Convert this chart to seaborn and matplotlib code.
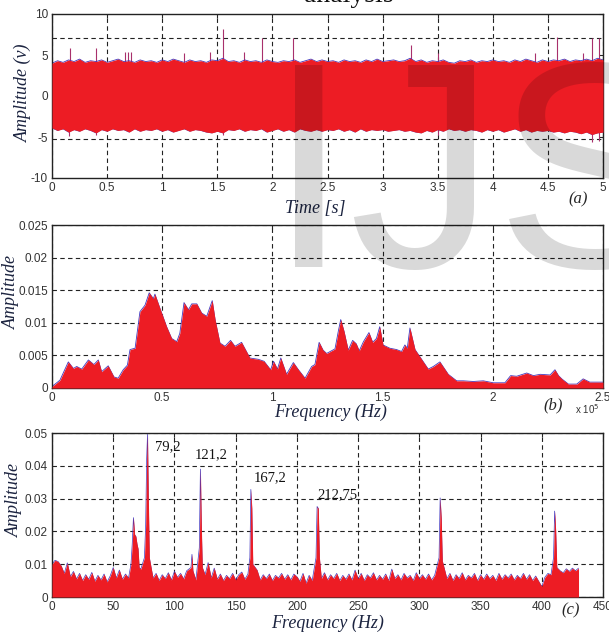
import numpy as np
import matplotlib
matplotlib.use("Agg")
import matplotlib.pyplot as plt
import seaborn as sns
from matplotlib.ticker import FuncFormatter

# -------------------------------
# Data
# -------------------------------
# (a) time signal: envelope sampled every 0.05 s, plus isolated spikes
time_a = np.arange(0, 5.001, 0.05)
upper_a = [4.0, 4.3, 4.1, 4.4, 4.2, 4.5, 4.1, 4.3, 4.2, 4.4,
           4.1, 4.3, 4.5, 4.2, 4.3, 4.1, 4.4, 4.2, 4.3, 4.1,
           4.4, 4.2, 4.5, 4.3, 4.1, 4.4, 4.2, 4.3, 4.1, 4.4,
           4.3, 4.6, 4.2, 4.3, 4.1, 4.4, 4.2, 4.3, 4.1, 4.4,
           4.2, 4.1, 4.3, 4.2, 4.4, 4.1, 4.3, 4.5, 4.2, 4.4,
           4.2, 4.3, 4.1, 4.4, 4.2, 4.3, 4.1, 4.4, 4.2, 4.5,
           4.2, 4.3, 4.4, 4.2, 4.3, 4.6, 4.2, 4.4, 4.1, 4.3,
           4.2, 4.4, 4.1, 4.0, 4.3, 4.2, 4.4, 4.1, 4.3, 4.2,
           4.4, 4.2, 4.3, 4.1, 4.4, 4.2, 4.5, 4.3, 4.1, 4.4,
           4.2, 4.4, 4.3, 4.5, 4.2, 4.4, 4.3, 4.5, 4.3, 4.6, 4.4]
lower_a = [-3.9, -4.2, -4.0, -4.4, -4.1, -4.3, -4.0, -4.2, -4.5, -4.1,
           -4.3, -4.0, -4.2, -4.1, -4.4, -4.0, -4.3, -4.1, -4.2, -4.0,
           -4.3, -4.1, -4.4, -4.2, -4.0, -4.3, -4.1, -4.2, -4.4, -4.5,
           -4.3, -4.5, -4.1, -4.2, -4.0, -4.3, -4.1, -4.2, -4.0, -4.4,
           -4.2, -4.0, -4.3, -4.1, -4.4, -4.0, -4.2, -4.3, -4.1, -4.3,
           -4.1, -4.2, -4.0, -4.3, -4.1, -4.4, -4.0, -4.3, -4.1, -4.2,
           -4.1, -4.3, -4.2, -4.1, -4.3, -4.2, -4.4, -4.5, -4.2, -4.4,
           -4.1, -4.3, -4.0, -4.2, -4.1, -4.3, -4.1, -4.2, -4.4, -4.1,
           -4.3, -4.1, -4.4, -4.2, -4.0, -4.3, -4.1, -4.4, -4.2, -4.3,
           -4.2, -4.4, -4.3, -4.5, -4.3, -4.4, -4.6, -4.4, -4.7, -4.5, -4.4]
spike_t = [0.16, 0.40, 0.66, 0.69, 0.72, 1.20, 1.43, 1.55, 1.74, 1.91,
           2.19, 3.26, 3.50, 4.38, 4.58, 4.82, 4.90, 4.96]
spike_v = [5.9, 5.9, 5.4, 5.4, 5.4, 5.2, 5.4, 8.2, 5.4, 7.1,
           7.1, 6.2, 5.2, 5.3, 7.2, 5.2, 7.1, 7.1]
neg_spike_t = [0.15, 0.40, 1.55, 3.50, 4.90, 4.96]
neg_spike_v = [-4.9, -4.8, -4.8, -4.8, -5.6, -5.5]
ref_lines_a = [7.1, -5.25]

# (b) spectrum, frequency in units of 1e5 Hz
freq_b = [0.0, 0.003, 0.036, 0.074, 0.097, 0.112, 0.135, 0.165, 0.19, 0.21,
          0.225, 0.255, 0.281, 0.30, 0.323, 0.342, 0.354, 0.377, 0.399, 0.422,
          0.441, 0.46, 0.467, 0.49, 0.52, 0.543, 0.566, 0.58, 0.599, 0.619,
          0.634, 0.657, 0.679, 0.702, 0.727, 0.74, 0.762, 0.785, 0.81, 0.83,
          0.86, 0.898, 0.936, 0.962, 0.992, 1.005, 1.023, 1.038, 1.064, 1.095,
          1.118, 1.148, 1.178, 1.193, 1.212, 1.230, 1.246, 1.284, 1.299, 1.31,
          1.325, 1.344, 1.364, 1.38, 1.394, 1.413, 1.438, 1.455, 1.472, 1.487,
          1.502, 1.533, 1.563, 1.586, 1.601, 1.612, 1.624, 1.647, 1.677, 1.707,
          1.73, 1.76, 1.798, 1.836, 1.866, 1.911, 1.957, 2.002, 2.055, 2.081,
          2.108, 2.154, 2.184, 2.215, 2.26, 2.282, 2.298, 2.313, 2.343, 2.381,
          2.41, 2.44, 2.486, 2.5]
amp_b = [0.0002, 0.0003, 0.0012, 0.0040, 0.0030, 0.0033, 0.0029, 0.0043, 0.0036, 0.0043,
         0.0025, 0.0034, 0.0017, 0.0015, 0.0028, 0.0035, 0.0059, 0.0061, 0.0117, 0.0127,
         0.0146, 0.0137, 0.0144, 0.0122, 0.0094, 0.0076, 0.0071, 0.0084, 0.0131, 0.0120,
         0.0129, 0.0129, 0.0115, 0.0110, 0.0134, 0.0105, 0.0069, 0.0064, 0.0073, 0.0064,
         0.0070, 0.0046, 0.0044, 0.0041, 0.0028, 0.0041, 0.0029, 0.0046, 0.0021, 0.0039,
         0.0028, 0.0015, 0.0033, 0.0036, 0.0070, 0.0058, 0.0053, 0.0060, 0.0087, 0.0105,
         0.0087, 0.0058, 0.0073, 0.0068, 0.0057, 0.0071, 0.0085, 0.0070, 0.0076, 0.0094,
         0.0066, 0.0061, 0.0059, 0.0056, 0.0066, 0.0061, 0.0092, 0.0059, 0.0044, 0.0029,
         0.0033, 0.0040, 0.0021, 0.0011, 0.0011, 0.0010, 0.0011, 0.0008, 0.0008, 0.0019,
         0.0018, 0.0023, 0.0019, 0.0021, 0.0020, 0.0028, 0.0019, 0.0014, 0.0006, 0.0006,
         0.0014, 0.0009, 0.0009, 0.0009]

# (c) low-frequency spectrum: noise floor every 2.5 Hz plus the peaks
floor_f = np.arange(0, 431, 2.5)
floor_a = [0.0100, 0.0112, 0.0108, 0.0095, 0.0072, 0.0104, 0.0062, 0.0078, 0.0055, 0.0072,
           0.0050, 0.0068, 0.0054, 0.0075, 0.0048, 0.0066, 0.0052, 0.0070, 0.0046, 0.0064,
           0.0090, 0.0058, 0.0082, 0.0054, 0.0070, 0.0058, 0.0075, 0.0080, 0.0075, 0.0085,
           0.0062, 0.0060, 0.0078, 0.0058, 0.0072, 0.0050, 0.0068, 0.0056, 0.0074, 0.0052,
           0.0078, 0.0060, 0.0072, 0.0055, 0.0080, 0.0060, 0.0066, 0.0052, 0.0070, 0.0062,
           0.0068, 0.0105, 0.0058, 0.0088, 0.0054, 0.0070, 0.0050, 0.0066, 0.0056, 0.0072,
           0.0052, 0.0068, 0.0076, 0.0054, 0.0070, 0.0060, 0.0064, 0.0082, 0.0052, 0.0068,
           0.0056, 0.0070, 0.0050, 0.0066, 0.0058, 0.0072, 0.0054, 0.0068, 0.0052, 0.0070,
           0.0062, 0.0048, 0.0072, 0.0042, 0.0066, 0.0050, 0.0060, 0.0058, 0.0056, 0.0074,
           0.0052, 0.0068, 0.0056, 0.0072, 0.0050, 0.0066, 0.0054, 0.0070, 0.0052, 0.0082,
           0.0056, 0.0072, 0.0050, 0.0068, 0.0058, 0.0074, 0.0052, 0.0066, 0.0054, 0.0070,
           0.0050, 0.0085, 0.0056, 0.0068, 0.0052, 0.0072, 0.0058, 0.0066, 0.0050, 0.0074,
           0.0056, 0.0068, 0.0054, 0.0070, 0.0052, 0.0066, 0.0058, 0.0060, 0.0062, 0.0056,
           0.0072, 0.0050, 0.0068, 0.0056, 0.0074, 0.0052, 0.0066, 0.0058, 0.0072, 0.0050,
           0.0068, 0.0054, 0.0070, 0.0056, 0.0066, 0.0050, 0.0072, 0.0054, 0.0068, 0.0058,
           0.0070, 0.0052, 0.0066, 0.0056, 0.0072, 0.0054, 0.0068, 0.0050, 0.0064, 0.0048,
           0.0032, 0.0060, 0.0072, 0.0068, 0.0070, 0.0072, 0.0080, 0.0074, 0.0086, 0.0078,
           0.0088, 0.0080, 0.0088]
peak_f = [64.5, 65.5, 66.5, 67.5, 68.5, 69.5, 70.3, 71.2,
          75.5, 76.5, 77.3, 78.0, 78.7, 79.5,
          113.5, 114.3, 115.1,
          120.3, 121.2, 122.0, 122.8,
          161.6, 162.4, 163.2, 164.0,
          215.6, 216.5, 217.5, 218.4,
          316.1, 317.0, 317.9, 318.8,
          409.6, 410.5, 411.4, 412.3]
peak_a = [0.010, 0.016, 0.0242, 0.019, 0.0185, 0.016, 0.0147, 0.009,
          0.012, 0.022, 0.042, 0.0496, 0.030, 0.012,
          0.009, 0.013, 0.008,
          0.015, 0.039, 0.021, 0.009,
          0.012, 0.0328, 0.027, 0.010,
          0.012, 0.0276, 0.027, 0.012,
          0.012, 0.0302, 0.024, 0.011,
          0.012, 0.0262, 0.020, 0.009]
peak_labels = ["79,2", "121,2", "167,2", "212,75"]
label_f = [84, 116.6, 164.8, 217]
label_a = [0.0457, 0.0433, 0.0363, 0.0311]

RED = "#ED1C24"
BLUE = "#4038C0"
SPIKE = "#A8306C"
GRID = dict(color="#222222", linestyle=(0, (4, 3)), linewidth=0.8)

sns.set_style("white")
plt.rcParams["font.family"] = ["Liberation Sans", "DejaVu Sans"]
plt.rcParams["axes.unicode_minus"] = False
SERIF = ["Liberation Serif", "DejaVu Serif"]
LABEL = dict(family=SERIF, style="italic", fontsize=13, color="#1c2440")
fmt = FuncFormatter(lambda v, p: f"{v:g}")

fig = plt.figure(figsize=(6.09, 6.34), dpi=100)
L, W = 52 / 609, 551 / 609
ax_a = fig.add_axes([L, (634 - 178) / 634, W, 164 / 634])
ax_b = fig.add_axes([L, (634 - 388) / 634, W, 163 / 634])
ax_c = fig.add_axes([L, (634 - 597) / 634, W, 164 / 634])


def style_axes(ax):
    for s in ax.spines.values():
        s.set_color("#222222")
        s.set_linewidth(1.0)
    ax.tick_params(direction="in", length=3, labelsize=8.5, labelcolor="#333333",
                   top=True, right=True, pad=3)
    ax.xaxis.set_major_formatter(fmt)
    ax.yaxis.set_major_formatter(fmt)
    ax.set_axisbelow(True)


# -------------------------------
# (a) Time signal
# -------------------------------
ax = ax_a
style_axes(ax)
ax.vlines(spike_t, 0, spike_v, color=SPIKE, linewidth=0.8, zorder=1)
ax.vlines(neg_spike_t, 0, neg_spike_v, color=SPIKE, linewidth=0.8, zorder=1)
sns.lineplot(x=time_a, y=upper_a, ax=ax, color=BLUE, linewidth=0.6, estimator=None, zorder=2)
sns.lineplot(x=time_a, y=lower_a, ax=ax, color=BLUE, linewidth=0.6, estimator=None, zorder=2)
ax.fill_between(time_a, lower_a, upper_a, color=RED, linewidth=0, zorder=3)
ax.set_xlim(0, 5)
ax.set_ylim(-10, 10)
ax.set_xticks(np.arange(0, 5.01, 0.5))
ax.set_yticks([-10, -5, 0, 5, 10])
ax.grid(axis="x", **GRID)
for yv in ref_lines_a:
    ax.axhline(yv, zorder=0, **GRID)
ax.set_xlabel("Time [s]", **LABEL)
ax.set_ylabel("Amplitude (v)", **LABEL)
ax.xaxis.set_label_coords(0.477, -0.134)
ax.yaxis.set_label_coords(-0.036, 0.52)
ax.text(0.955, -0.13, "(a)", transform=ax.transAxes, ha="center", va="center",
        family=SERIF, style="italic", fontsize=12)

# -------------------------------
# (b) Spectrum (wide band)
# -------------------------------
ax = ax_b
style_axes(ax)
sns.lineplot(x=freq_b, y=amp_b, ax=ax, color=BLUE, linewidth=0.6, estimator=None, zorder=2)
ax.fill_between(freq_b, 0, amp_b, color=RED, linewidth=0, zorder=3)
ax.set_xlim(0, 2.5)
ax.set_ylim(0, 0.025)
ax.set_xticks([0, 0.5, 1, 1.5, 2, 2.5])
ax.set_yticks([0, 0.005, 0.01, 0.015, 0.02, 0.025])
ax.grid(True, **GRID)
ax.set_xlabel("Frequency (Hz)", **LABEL)
ax.set_ylabel("Amplitude", **LABEL)
ax.xaxis.set_label_coords(0.505, -0.098)
ax.yaxis.set_label_coords(-0.058, 0.59)
ax.text(0.909, -0.105, "(b)", transform=ax.transAxes, ha="center", va="center",
        family=SERIF, style="italic", fontsize=12)
ax.text(0.971, -0.13, r"x 10$^5$", transform=ax.transAxes, ha="center", va="center",
        fontsize=7, color="#333333")

# -------------------------------
# (c) Spectrum (low band)
# -------------------------------
ax = ax_c
style_axes(ax)
pf = np.array(peak_f)
keep = np.min(np.abs(floor_f[:, None] - pf[None, :]), axis=1) > 1.2
f_c = np.concatenate([floor_f[keep], pf])
a_c = np.concatenate([np.array(floor_a)[keep], np.array(peak_a)])
order = np.argsort(f_c)
f_c, a_c = f_c[order], a_c[order]
sns.lineplot(x=f_c, y=a_c, ax=ax, color=BLUE, linewidth=0.5, estimator=None, sort=False, zorder=2)
ax.fill_between(f_c, 0, a_c, color=RED, linewidth=0, zorder=3)
ax.set_xlim(0, 450)
ax.set_ylim(0, 0.05)
ax.set_xticks(np.arange(0, 451, 50))
ax.set_yticks([0, 0.01, 0.02, 0.03, 0.04, 0.05])
ax.grid(True, **GRID)
for lab, fx, ay in zip(peak_labels, label_f, label_a):
    ax.text(fx, ay, lab, ha="left", va="center", family=SERIF, fontsize=10.5,
            color="#111111", zorder=5)
ax.set_xlabel("Frequency (Hz)", **LABEL)
ax.set_ylabel("Amplitude", **LABEL)
ax.xaxis.set_label_coords(0.5, -0.11)
ax.yaxis.set_label_coords(-0.053, 0.59)
ax.text(0.942, -0.08, "(c)", transform=ax.transAxes, ha="center", va="center",
        family=SERIF, style="italic", fontsize=12)

# cropped caption at the top and the scan watermark
fig.text(349 / 609, 1 - 2.5 / 634, "analysis", ha="center", va="baseline",
         family=SERIF, fontsize=20, color="#111111")
fig.text(268 / 609, (634 - 267) / 634, "IJSER", ha="left", va="baseline",
         family=["Liberation Sans", "DejaVu Sans"], fontsize=211,
         color="black", alpha=0.15, zorder=10)

fig.savefig("out.png", dpi=100)
